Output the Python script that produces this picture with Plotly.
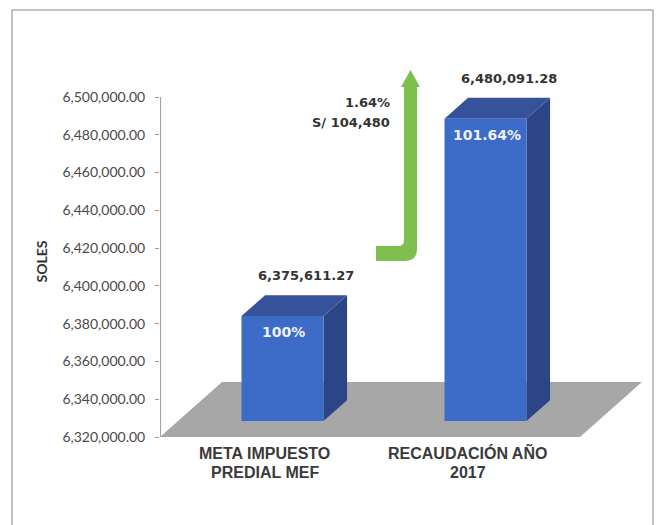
import plotly.graph_objects as go

# ---- data -------------------------------------------------------------
categories = ["META IMPUESTO<br>PREDIAL MEF", "RECAUDACIÓN AÑO<br>2017"]
values = [6375611.27, 6480091.28]
value_labels = ["6,375,611.27", "6,480,091.28"]
pct_labels = ["100%", "101.64%"]
increase_labels = ["1.64%", "S/ 104,480"]
tick_values = [6320000 + 20000 * k for k in range(10)]
tick_labels = [f"{v:,.2f}" for v in tick_values]

# ---- geometry of the pseudo-3D drawing (data units) ----------------------
W, H = 658, 525
M_L, M_R, M_T, M_B = 160, 8, 59, 84
BASE = 6320000
Y_RANGE = [6317882, 6520118]
X_RANGE = [-0.5148, 1.8990]
HALF_W = 0.202          # half bar width (category units)
SX = 0.3054             # x shift per unit of depth
SY = 29100              # y shift per unit of depth
D_FRONT, D_BACK = 0.29, 0.67
FLOOR_X = [X_RANGE[0], 1.554]

FRONT, TOP, SIDE = "#3d6bc8", "#35529a", "#2c4586"
FLOOR = "#a7a7a7"
TXT = "#333333"

fig = go.Figure()


def poly(xs, ys, color):
    fig.add_trace(go.Scatter(
        x=xs + [xs[0]], y=ys + [ys[0]], mode="lines", fill="toself",
        fillcolor=color, line=dict(width=0, color=color),
        hoverinfo="skip", showlegend=False))


# floor
fx0, fx1 = FLOOR_X
poly([fx0, fx1, fx1 + SX, fx0 + SX],
     [BASE, BASE, BASE + SY, BASE + SY], FLOOR)

# bars: side, top, front faces
for i, v in enumerate(values):
    xl, xr = i - HALF_W, i + HALF_W
    f_dx, f_dy = D_FRONT * SX, D_FRONT * SY
    b_dx, b_dy = D_BACK * SX, D_BACK * SY
    poly([xr + f_dx, xr + b_dx, xr + b_dx, xr + f_dx],
         [BASE + f_dy, BASE + b_dy, v + b_dy, v + f_dy], SIDE)
    poly([xl + f_dx, xr + f_dx, xr + b_dx, xl + b_dx],
         [v + f_dy, v + f_dy, v + b_dy, v + b_dy], TOP)
    poly([xl + f_dx, xr + f_dx, xr + f_dx, xl + f_dx],
         [BASE + f_dy, BASE + f_dy, v + f_dy, v + f_dy], FRONT)

# value axis line
fig.add_trace(go.Scatter(
    x=[X_RANGE[0] + 0.003] * 2, y=[tick_values[0], tick_values[-1]],
    mode="lines", line=dict(color="#9a9a9a", width=1),
    hoverinfo="skip", showlegend=False))

annotations = []
for i, v in enumerate(values):
    annotations.append(dict(
        x=i, y=v, xref="x", yref="y", text=value_labels[i], showarrow=False,
        xshift=41, yshift=56,
        font=dict(family="DejaVu Sans", size=13, color=TXT, weight="bold")))
    annotations.append(dict(
        x=i, y=v, xref="x", yref="y", text=pct_labels[i], showarrow=False,
        xshift=19, yshift=0,
        font=dict(family="DejaVu Sans", size=14, color="#eef2fa", weight="bold")))
    for j, line in enumerate(categories[i].split("<br>")):
        annotations.append(dict(
            x=i, y=(H - M_B - (464 + 19 * j)) / (H - M_T - M_B),
            xref="x", yref="paper", text=line, showarrow=False,
            font=dict(family="Liberation Sans", size=16, color="#3a3a3a",
                      weight="bold")))


def px(x):
    return (x - M_L) / (W - M_L - M_R)


def py(y):
    return (H - M_B - y) / (H - M_T - M_B)


for j, t in enumerate(increase_labels):
    annotations.append(dict(
        x=px(392), y=py(93 + 20 * j), xref="paper", yref="paper", text=t,
        showarrow=False, xanchor="right",
        font=dict(family="DejaVu Sans", size=13, color=TXT, weight="bold")))

annotations.append(dict(
    x=px(30), y=py(262), xref="paper", yref="paper", text="SOLES",
    showarrow=False, textangle=-90,
    font=dict(family="Lato", size=14, color=TXT, weight="bold")))

# green bent arrow marking the increase
arrow_pts = [(376, 246), (398, 246), ("Q", 404, 246, 404, 240), (404, 87),
             (401, 87), (410.5, 70), (420, 87), (417, 87), (417, 249),
             ("Q", 417, 261, 405, 261), (376, 261)]
path = ""
for k, p in enumerate(arrow_pts):
    if p[0] == "Q":
        path += f" Q {px(p[1])},{py(p[2])} {px(p[3])},{py(p[4])}"
    else:
        path += (" M " if k == 0 else " L ") + f"{px(p[0])},{py(p[1])}"
path += " Z"

shapes = [
    dict(type="path", path=path, xref="paper", yref="paper",
         fillcolor="#7fbf4d", line=dict(width=0)),
    dict(type="rect", xref="paper", yref="paper",
         x0=px(12), x1=px(653), y0=py(10), y1=py(540),
         line=dict(color="#b0b0b0", width=1.5), fillcolor="rgba(0,0,0,0)"),
]

fig.update_layout(
    width=W, height=H,
    margin=dict(l=M_L, r=M_R, t=M_T, b=M_B, autoexpand=False),
    paper_bgcolor="white", plot_bgcolor="white",
    showlegend=False,
    xaxis=dict(range=X_RANGE, visible=False, fixedrange=True),
    yaxis=dict(range=Y_RANGE, tickvals=tick_values, ticktext=tick_labels,
               ticks="outside", ticklen=4, tickcolor="#9a9a9a",
               showline=False, showgrid=False, zeroline=False,
               ticklabelstandoff=7,
               tickfont=dict(family="Lato", size=14, color="#4a4a4a")),
    annotations=annotations, shapes=shapes,
)

fig.write_html("out.html")
